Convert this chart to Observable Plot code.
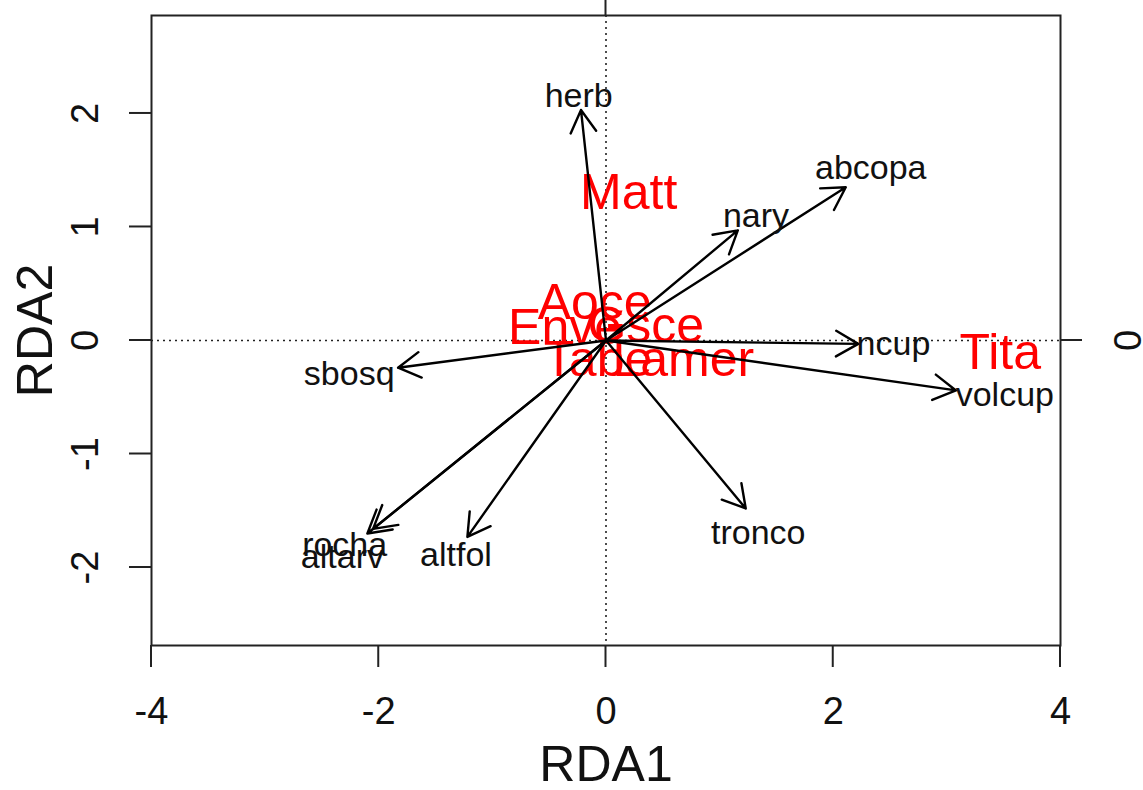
<!DOCTYPE html>
<html>
<head>
<meta charset="utf-8">
<script src="https://cdn.jsdelivr.net/npm/d3@7"></script>
<script src="https://cdn.jsdelivr.net/npm/@observablehq/plot@0.6"></script>
<style>
  html, body { margin: 0; padding: 0; background: #fff; }
  #chart svg { display: block; }
</style>
</head>
<body>
<div id="chart"></div>
<script>
// Axis ticks
const xTicks = [-4, -2, 0, 2, 4];
const yTicks = [-2, -1, 0, 1, 2];

// Environmental variables (biplot arrows)
const varNames = ["herb", "abcopa", "nary", "ncup", "volcup", "tronco", "altfol", "rocha", "altarv", "sbosq"];
const arrowX = [-0.22, 2.11, 1.16, 2.22, 3.08, 1.23, -1.22, -2.10, -2.05, -1.83];
const arrowY = [2.03, 1.35, 0.97, -0.03, -0.44, -1.48, -1.73, -1.70, -1.66, -0.24];
const varLabelX = [-0.24, 2.33, 1.32, 2.53, 3.51, 1.34, -1.32, -2.30, -2.32, -2.26];
const varLabelY = [2.15, 1.52, 1.10, -0.03, -0.48, -1.70, -1.89, -1.80, -1.91, -0.30];

// Site / species scores (red labels)
const siteNames = ["Matt", "Tita", "Aoce", "Enve", "Gsce", "Tabe", "Lamer"];
const siteX = [0.20, 3.47, -0.10, -0.36, 0.35, -0.07, 0.68];
const siteY = [1.30, -0.11, 0.33, 0.11, 0.13, -0.17, -0.17];

const vars = varNames.map((n, i) => ({name: n, x: arrowX[i], y: arrowY[i], lx: varLabelX[i], ly: varLabelY[i]}));
const sites = siteNames.map((n, i) => ({name: n, x: siteX[i], y: siteY[i]}));

const font = "'Liberation Sans', Arial, sans-serif";
const TICK = 22;

// R-style outward ticks drawn from Plot's own scales
function rTicks(index, scales, values, dimensions) {
  const {width, height, marginTop, marginRight, marginBottom, marginLeft} = dimensions;
  const g = d3.create("svg:g").attr("stroke", "#222").attr("stroke-width", 2);
  const bottom = height - marginBottom, right = width - marginRight;
  for (const t of xTicks) {
    const px = scales.x(t);
    g.append("line").attr("x1", px).attr("x2", px).attr("y1", bottom).attr("y2", bottom + TICK);
  }
  for (const t of yTicks) {
    const py = scales.y(t);
    g.append("line").attr("x1", marginLeft).attr("x2", marginLeft - TICK).attr("y1", py).attr("y2", py);
  }
  // single zero ticks on top and right sides
  const x0 = scales.x(0), y0 = scales.y(0);
  g.append("line").attr("x1", x0).attr("x2", x0).attr("y1", marginTop).attr("y2", marginTop - TICK);
  g.append("line").attr("x1", right).attr("x2", right + TICK).attr("y1", y0).attr("y2", y0);
  return g.node();
}

const chart = Plot.plot({
  width: 1143,
  height: 790,
  marginLeft: 151,
  marginRight: 83,
  marginTop: 15,
  marginBottom: 145,
  style: {fontFamily: font, background: "#fff", color: "#111"},
  x: {domain: [-4, 4], axis: null},
  y: {domain: [-2.687, 2.863], axis: null},
  marks: [
    // dotted reference lines at zero
    Plot.ruleX([0], {stroke: "#222", strokeWidth: 1.6, strokeDasharray: "2,4"}),
    Plot.ruleY([0], {stroke: "#222", strokeWidth: 1.6, strokeDasharray: "2,4"}),
    // site labels (red)
    Plot.text(sites, {x: "x", y: "y", text: "name", fill: "#ff0000", fontSize: 50}),
    // arrows
    Plot.arrow(vars, {x1: 0, y1: 0, x2: "x", y2: "y", stroke: "#000", strokeWidth: 2.4, headLength: 16, headAngle: 60}),
    // variable labels
    Plot.text(vars, {x: "lx", y: "ly", text: "name", fill: "#111", fontSize: 34}),
    // frame
    Plot.frame({stroke: "#222", strokeWidth: 2}),
    // ticks
    rTicks,
    // tick labels
    Plot.text(xTicks, {x: d => d, frameAnchor: "bottom", dy: 66, text: d => String(d), fontSize: 38, textAnchor: "middle", lineAnchor: "middle", fill: "#111"}),
    Plot.text(yTicks, {y: d => d, frameAnchor: "left", dx: -66, rotate: -90, text: d => String(d), fontSize: 38, textAnchor: "middle", lineAnchor: "middle", fill: "#111"}),
    Plot.text([0], {y: d => d, frameAnchor: "right", dx: 68, rotate: -90, text: d => String(d), fontSize: 38, textAnchor: "middle", lineAnchor: "middle", fill: "#111"}),
    // axis titles
    Plot.text(["RDA1"], {frameAnchor: "bottom", dy: 119, text: d => d, fontSize: 50, textAnchor: "middle", lineAnchor: "middle", fill: "#111"}),
    Plot.text(["RDA2"], {frameAnchor: "left", dx: -116, rotate: -90, text: d => d, fontSize: 50, textAnchor: "middle", lineAnchor: "middle", fill: "#111"})
  ]
});
document.getElementById("chart").appendChild(chart);
</script>
</body>
</html>
